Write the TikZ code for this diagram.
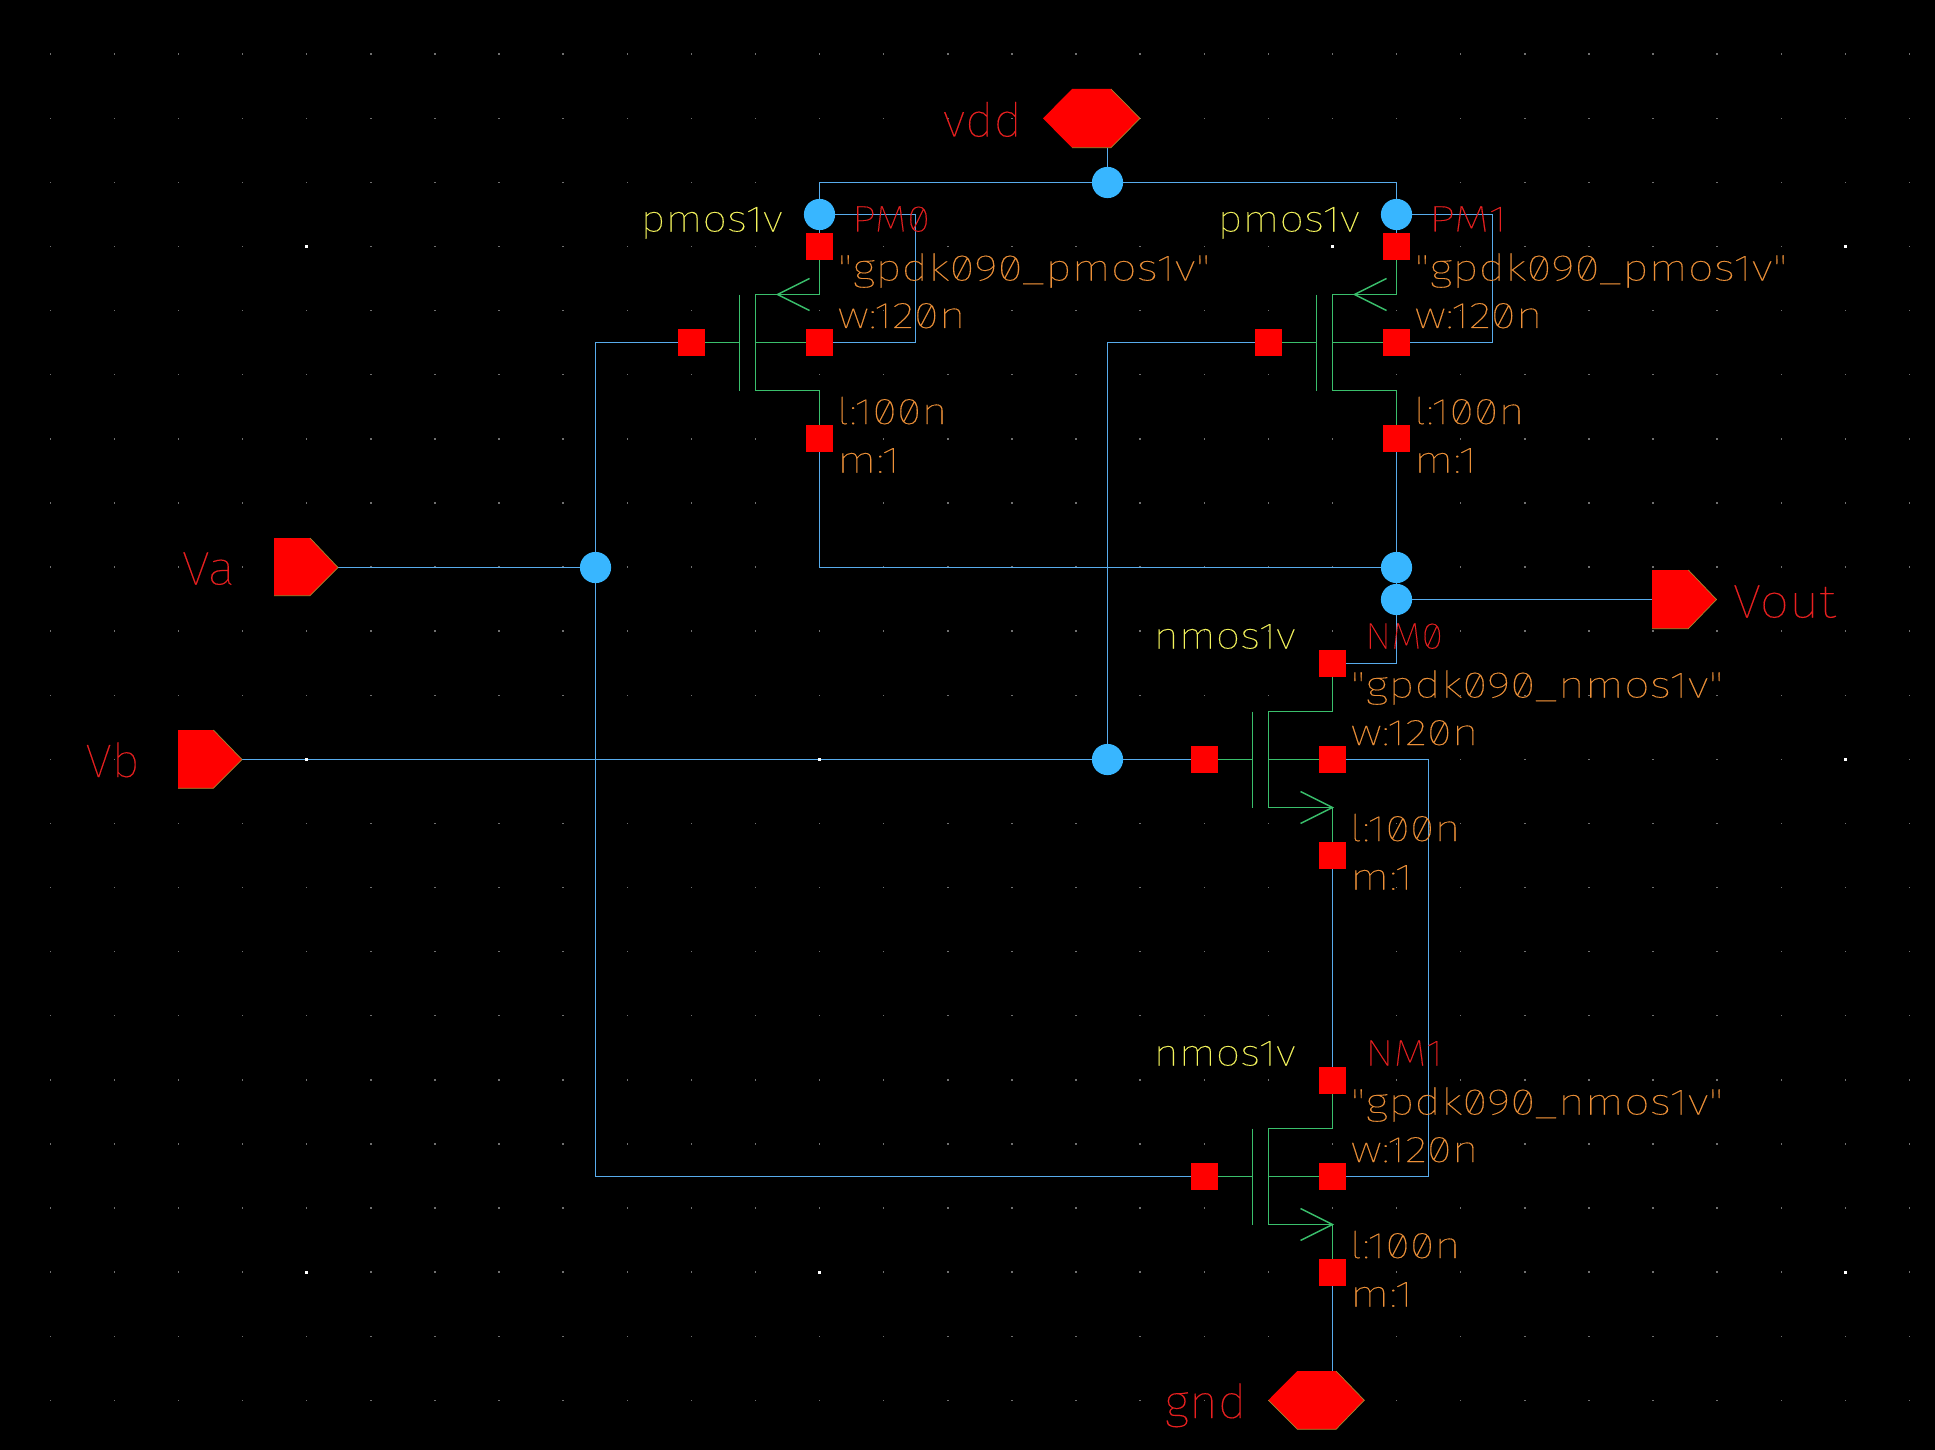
\documentclass[tikz,border=0pt]{standalone}
\usepackage{fontspec}
\usepackage{graphicx}
\newfontfamily\cadfont{Fira Sans}[UprightFont=* Thin,UprightFeatures={FakeBold=0.25},RawFeature=+zero]
\usetikzlibrary{calc}
\definecolor{wirec}{HTML}{58ACEC}
\definecolor{dotc}{HTML}{38B6FF}
\definecolor{devc}{HTML}{3ABF6C}
\definecolor{typec}{HTML}{F4F45C}
\definecolor{instc}{HTML}{E82020}
\definecolor{parc}{HTML}{EC9038}
\definecolor{gridc}{HTML}{707070}
\definecolor{edgec}{HTML}{A08A30}
\pgfdeclarelayer{gridlayer}
\pgfdeclarelayer{wirelayer}
\pgfdeclarelayer{majorlayer}
\pgfsetlayers{gridlayer,wirelayer,majorlayer,main}
\tikzset{
  x=0.5pt,y=-0.5pt,
  wire/.style={draw=wirec,line width=0.75pt},
  dev/.style={draw=devc,line width=0.75pt},
  sq/.style={rectangle,fill=red,minimum width=13.5pt,minimum height=13.5pt,inner sep=0pt,outer sep=0pt},
  junc/.style={circle,fill=dotc,minimum size=15.6pt,inner sep=0pt,outer sep=0pt},
  txt/.style={anchor=base west,inner sep=0pt,outer sep=0pt},
  typetxt/.style={txt,text=typec,font=\cadfont\fontsize{18.5}{20}\selectfont},
  insttxt/.style={txt,text=instc,font=\cadfont\fontsize{18.5}{20}\selectfont},
  partxt/.style={txt,text=parc,font=\cadfont\fontsize{18.5}{20}\selectfont},
  bigtxt/.style={txt,text=instc,font=\cadfont\fontsize{23.5}{26}\selectfont},
  pinfill/.style={fill=red},
  pinedge/.style={draw=edgec,line width=0.35pt},
}
% #1 width in px, #2 text
\newcommand{\fitw}[2]{\resizebox{\dimexpr #1pt/2\relax}{\height}{#2}}
% shared part of a transistor: #1 name, #2 x, #3 y, #4 type, #5 instance, #6 model
\newcommand{\devcommon}[6]{%
  \begin{scope}[shift={(#2,#3)}]
    \node[sq] (#1g) at (-128,0) {};
    \node[sq] (#1b) at (0,0) {};
    \node[sq] (#1d) at (0,-96) {};
    \node[sq] (#1s) at (0,96) {};
    \coordinate (#1tc) at (-64,-48);
    \coordinate (#1bc) at (-64,48);
    \coordinate (#1tr) at (0,-48);
    \coordinate (#1br) at (0,48);
    \coordinate (#1gt) at (-80,-48);
    \coordinate (#1gb) at (-80,48);
    \coordinate (#1gm) at (-80,0);
    \coordinate (#1cm) at (-64,0);
    \draw[dev] (#1d) -- (#1tr) -- (#1tc) -- (#1bc) -- (#1br) -- (#1s);
    \draw[dev] (#1gt) -- (#1gb);
    \draw[dev] (#1g) -- (#1gm);
    \draw[dev] (#1cm) -- (#1b);
    \node[typetxt] (#1type) at (-179,-111) {\fitw{142}{#4}};
    \node[insttxt] (#1inst) at (32.5,-111) {\fitw{78}{#5}};
    \node[partxt] (#1model) at (18,-62) {\fitw{373}{"gpdk090\_#6"}};
    \node[partxt] (#1w) at (18,-14.5) {\fitw{128}{w:120n}};
    \node[partxt] (#1l) at (17,81.5) {\fitw{111}{l:100n}};
    \node[partxt] (#1m) at (17.5,130) {\fitw{63}{m:1}};
  \end{scope}}
\newcommand{\pmosdev}[5]{%
  \devcommon{#1}{#2}{#3}{pmos1v}{#4}{pmos1v}%
  \begin{scope}[shift={(#2,#3)}]
    \coordinate (#1at) at (-42,-48);
    \coordinate (#1a1) at (-10,-64);
    \coordinate (#1a2) at (-10,-32);
    \coordinate (#1bk) at (96,0);
    \coordinate (#1bt) at (96,-128);
    \draw[dev] (#1a1) -- (#1at) -- (#1a2);
  \end{scope}}
\newcommand{\nmosdev}[4]{%
  \devcommon{#1}{#2}{#3}{nmos1v}{#4}{nmos1v}%
  \begin{scope}[shift={(#2,#3)}]
    \coordinate (#1at) at (0,48);
    \coordinate (#1a1) at (-32,32);
    \coordinate (#1a2) at (-32,64);
    \coordinate (#1bk) at (96,0);
    \draw[dev] (#1a1) -- (#1at) -- (#1a2);
  \end{scope}}
\begin{document}
\begin{tikzpicture}
\useasboundingbox (0,0) rectangle (1935,1450);
\begin{pgfonlayer}{gridlayer}
  \fill[black] (0,0) rectangle (1935,1450);
  \foreach \i in {0,...,29}{
    \foreach \j in {0,...,21}{
      \fill[gridc] ({50.3+64.11*\i-0.7},{54.2+64.1*\j-0.7}) rectangle ++(1.4,1.4);
    }
  }
\end{pgfonlayer}
\begin{pgfonlayer}{majorlayer}
  \foreach \i in {4,12,20,28}{
    \foreach \j in {3,11,19}{
      \fill[white] ({50.3+64.11*\i-1.5},{54.2+64.1*\j-1.5}) rectangle ++(3,3);
    }
  }
\end{pgfonlayer}

% transistors
\pmosdev{pa}{819.5}{342.5}{PM0}{}
\pmosdev{pb}{1396.5}{342.5}{PM1}{}
\nmosdev{na}{1332.5}{759.5}{NM0}
\nmosdev{nb}{1332.5}{1176.5}{NM1}

% junctions
\node[junc] (jvdd) at (1107.5,182.5) {};
\node[junc] (jpa) at (819.5,214.5) {};
\node[junc] (jpb) at (1396.5,214.5) {};
\node[junc] (jva) at (595.5,567.5) {};
\node[junc] (jvb) at (1107.5,759.5) {};
\node[junc] (jo1) at (1396.5,567.5) {};
\node[junc] (jo2) at (1396.5,599.5) {};

% pins
\coordinate (vddpin) at (1107.5,147.7);
\fill[pinfill] (1043,118.4) -- (1072,89) -- (1111,89) -- (1140,118.4) -- (1111,147.7) -- (1072,147.7) -- cycle;
\draw[pinedge] (1111,89) -- (1140,118.4) -- (1111,147.7) -- (1072,147.7);
\coordinate (gndpin) at (1332.5,1371);
\fill[pinfill] (1268.3,1400.2) -- (1297.3,1371) -- (1336,1371) -- (1364.3,1400.2) -- (1336,1429.3) -- (1297.3,1429.3) -- cycle;
\draw[pinedge] (1336,1371) -- (1364.3,1400.2) -- (1336,1429.3) -- (1297.3,1429.3) -- (1268.3,1400.2);
\coordinate (vapin) at (338,567.5);
\fill[pinfill] (274,538) -- (310,538) -- (338,567.5) -- (310,595.7) -- (274,595.7) -- cycle;
\draw[pinedge] (310,538) -- (338,567.5) -- (310,595.7) -- (274,595.7);
\coordinate (vbpin) at (242,759.5);
\fill[pinfill] (178,730) -- (213.4,730) -- (242,759.5) -- (213.4,788.3) -- (178,788.3) -- cycle;
\draw[pinedge] (213.4,730) -- (242,759.5) -- (213.4,788.3) -- (178,788.3);
\coordinate (voutpin) at (1652,599.5);
\fill[pinfill] (1652,570) -- (1688.3,570) -- (1716.5,599.5) -- (1688.3,628.7) -- (1652,628.7) -- cycle;
\draw[pinedge] (1688.3,570) -- (1716.5,599.5) -- (1688.3,628.7) -- (1652,628.7);

% pin labels
\node[bigtxt] (lvdd) at (943,136.5) {\fitw{79}{vdd}};
\node[bigtxt] (lgnd) at (1164.5,1418) {\fitw{82}{gnd}};
\node[bigtxt] (lva) at (182,584.5) {\fitw{53}{Va}};
\node[bigtxt] (lvb) at (85.5,777) {\fitw{54}{Vb}};
\node[bigtxt] (lvout) at (1733,617.5) {\fitw{103}{Vout}};

% wires
\begin{pgfonlayer}{wirelayer}
  \draw[wire] (vddpin) -- (jvdd);
  \draw[wire] (jpa) |- (jvdd);
  \draw[wire] (jvdd) -| (jpb);
  \draw[wire] (jpa) -- (pad);
  \draw[wire] (jpb) -- (pbd);
  \draw[wire] (pab) -- (pabk) -- (pabt) -- (jpa);
  \draw[wire] (pbb) -- (pbbk) -- (pbbt) -- (jpb);
  \draw[wire] (pas) |- (jo1);
  \draw[wire] (pbs) -- (jo1);
  \draw[wire] (jo1) -- (jo2);
  \draw[wire] (jo2) -- (voutpin);
  \draw[wire] (jo2) |- (nad);
  \draw[wire] (vapin) -- (jva);
  \draw[wire] (jva) |- (pag);
  \draw[wire] (jva) |- (nbg);
  \draw[wire] (vbpin) -- (jvb);
  \draw[wire] (jvb) -- (nag);
  \draw[wire] (jvb) |- (pbg);
  \draw[wire] (nab) -- (nabk) -- (nbbk) -- (nbb);
  \draw[wire] (nas) -- (nbd);
  \draw[wire] (nbs) -- (gndpin);
\end{pgfonlayer}
\end{tikzpicture}
\end{document}
